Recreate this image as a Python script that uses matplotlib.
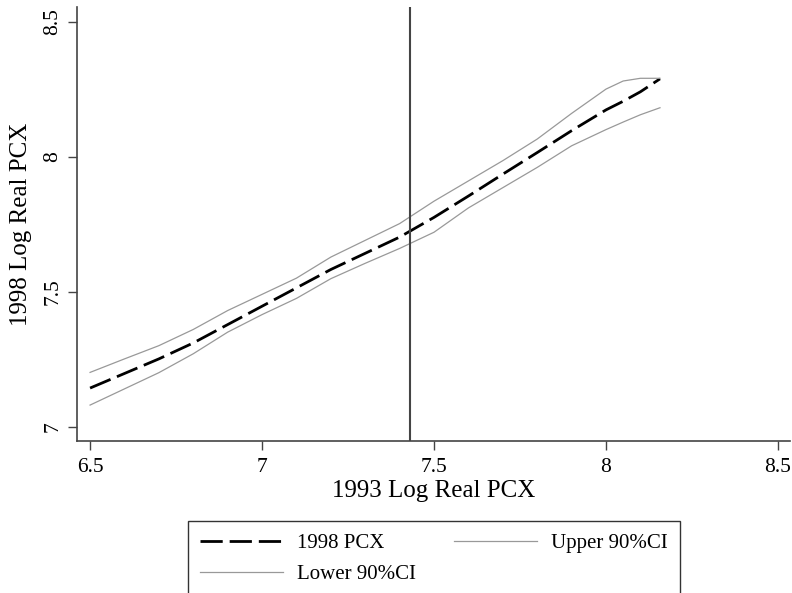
import matplotlib
matplotlib.use("Agg")
import matplotlib.pyplot as plt
import numpy as np

# values
x93 = [6.5, 6.6, 6.7, 6.8, 6.9, 7.0, 7.1, 7.2, 7.3, 7.4, 7.5, 7.6, 7.7,
       7.8, 7.9, 8.0, 8.05, 8.1, 8.157]
pcx98 = [7.143, 7.197, 7.251, 7.31, 7.378, 7.446, 7.514, 7.582, 7.642,
         7.702, 7.775, 7.854, 7.935, 8.015, 8.096, 8.173, 8.205, 8.24, 8.288]
upper = [7.201, 7.251, 7.30, 7.36, 7.43, 7.49, 7.55, 7.628, 7.69, 7.752,
         7.835, 7.91, 7.985, 8.065, 8.16, 8.25, 8.28, 8.29, 8.29]
lower = [7.080, 7.14, 7.20, 7.27, 7.35, 7.415, 7.475, 7.548, 7.605, 7.66,
         7.72, 7.81, 7.885, 7.96, 8.04, 8.10, 8.128, 8.155, 8.181]
vline_x = 7.43

xticks = [6.5, 7, 7.5, 8, 8.5]
yticks = [7, 7.5, 8, 8.5]
tick_labels_x = ["6.5", "7", "7.5", "8", "8.5"]
tick_labels_y = ["7", "7.5", "8", "8.5"]

plt.rcParams['font.family'] = ['Liberation Serif', 'DejaVu Serif']

fig = plt.figure(figsize=(7.92, 5.93), dpi=100)
ax = fig.add_axes([77 / 792, 1 - 441 / 593, 713 / 792, 434 / 593])

l_main, = ax.plot(x93, pcx98, color='black', lw=2.0, dashes=(8, 2.5),
                  label='1998 PCX')
l_up, = ax.plot(x93, upper, color='#999999', lw=0.9, label='Upper 90%CI')
l_lo, = ax.plot(x93, lower, color='#999999', lw=0.9, label='Lower 90%CI')
ax.axvline(vline_x, color='#444444', lw=1.5)

ax.set_xlim(6.462, 8.535)
ax.set_ylim(6.947, 8.554)
ax.set_xticks(xticks)
ax.set_xticklabels(tick_labels_x)
ax.set_yticks(yticks)
ax.set_yticklabels(tick_labels_y, rotation=90, va='center')

for s in ['top', 'right']:
    ax.spines[s].set_visible(False)
for s in ['left', 'bottom']:
    ax.spines[s].set_color('#444444')
    ax.spines[s].set_linewidth(1.2)

ax.tick_params(axis='both', length=6.5, width=1, color='#444444',
               labelsize=15.5, direction='out')
ax.tick_params(axis='x', pad=6)
ax.tick_params(axis='y', pad=4)

ax.set_xlabel('1993 Log Real PCX', fontsize=18, labelpad=2)
ax.set_ylabel('1998 Log Real PCX', fontsize=18, labelpad=8)

leg = fig.legend(handles=[l_main, l_lo, l_up], ncol=2,
                 loc='upper center', bbox_to_anchor=(434 / 792, 1 - 521 / 593),
                 fontsize=15, handlelength=4.0, handletextpad=0.67,
                 columnspacing=1.8, labelspacing=0.55, borderpad=0.6,
                 borderaxespad=0, fancybox=False, frameon=True)
leg.get_frame().set_edgecolor('black')
leg.get_frame().set_linewidth(1.0)

fig.savefig('out.png', dpi=100)
